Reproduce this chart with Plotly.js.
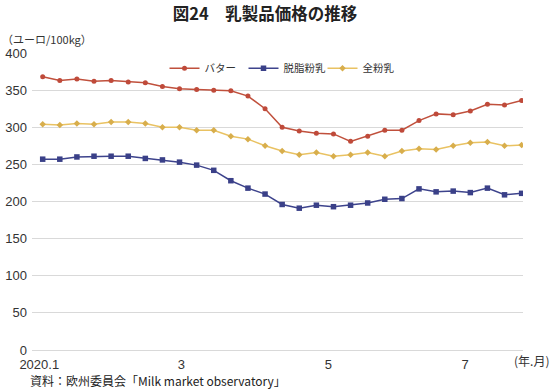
<!DOCTYPE html>
<html>
<head>
<meta charset="utf-8">
<script src="https://cdn.plot.ly/plotly-3.0.1.min.js"></script>
<style>html,body{margin:0;padding:0;background:#fff;}#chart{width:553px;height:389px;}</style>
</head>
<body>
<div id="chart"></div>
<script>
// Weekly observations, 2020 week 1 .. week 29
const weeks = [1,2,3,4,5,6,7,8,9,10,11,12,13,14,15,16,17,18,19,20,21,22,23,24,25,26,27,28,29];
const seriesNames = ['バター', '脱脂粉乳', '全粉乳'];
const butter = [368,363,365,362,363,361,360,355,352,351,350,349,342,325,300,295,292,291,281,288,296,296,309,318,317,322,331,330,336];
const skimMilkPowder = [257,257,260,261,261,261,258,256,253,249,242,228,218,210,196,191,195,193,195,198,203,204,217,213,214,212,218,209,211];
const wholeMilkPowder = [304,303,305,304,307,307,305,300,300,296,296,288,284,275,268,263,266,261,263,266,261,268,271,270,275,279,280,275,276];
const tickLabels = ['2020.1', '3', '5', '7'];
const tickWeeks = [0.8, 9.1, 17.7, 25.7];

const FONT = 'Liberation Sans, Arial, "Noto Sans CJK JP", sans-serif';
const JFONT = '"Noto Sans CJK JP", "Liberation Sans", sans-serif';

const traces = [
  {x: weeks, y: butter, name: seriesNames[0], type: 'scatter', mode: 'lines+markers',
   line: {color: '#c0503c', width: 1.5}, marker: {symbol: 'circle', size: 5, color: '#bf4a3a'}},
  {x: weeks, y: skimMilkPowder, name: seriesNames[1], type: 'scatter', mode: 'lines+markers',
   line: {color: '#3d438c', width: 1.5}, marker: {symbol: 'square', size: 5.5, color: '#3a4088'}},
  {x: weeks, y: wholeMilkPowder, name: seriesNames[2], type: 'scatter', mode: 'lines+markers',
   line: {color: '#e9c262', width: 1.5}, marker: {symbol: 'diamond', size: 5, color: '#d8ae4c'}}
];

const layout = {
  width: 553, height: 389, autosize: false,
  paper_bgcolor: '#ffffff', plot_bgcolor: '#ffffff',
  margin: {l: 32, r: 30, t: 53, b: 39, pad: 0},
  font: {family: FONT, size: 13, color: '#333333'},
  title: {text: '図24　乳製品価格の推移', font: {family: JFONT, size: 16.5, color: '#222222', weight: 'bold'},
          x: 265/553, xanchor: 'center', y: 1 - 14/389, yanchor: 'middle', yref: 'container'},
  showlegend: true,
  legend: {orientation: 'h', x: (283-32)/491, xanchor: 'center', y: 0.9485, yanchor: 'middle',
           bgcolor: 'rgba(0,0,0,0)', font: {family: JFONT, size: 10.5, color: '#333333'},
           itemwidth: 30, tracegroupgap: 0, entrywidth: 34, entrywidthmode: 'pixels'},
  xaxis: {type: 'linear', range: [0.375, 29.08], tickmode: 'array', tickvals: tickWeeks, ticktext: tickLabels,
          showgrid: false, zeroline: false, showline: true, linecolor: '#d9d9d9', linewidth: 1,
          ticks: '', ticklabelstandoff: 2, tickfont: {family: FONT, size: 13, color: '#333333'}, fixedrange: true},
  yaxis: {range: [0, 400], tickmode: 'linear', tick0: 0, dtick: 50, showgrid: true, gridcolor: '#d9d9d9',
          gridwidth: 1, zeroline: false, showline: false, ticks: '', ticklabelstandoff: 4,
          tickfont: {family: FONT, size: 13, color: '#333333'}, fixedrange: true},
  annotations: [
    {text: '（ユーロ/100kg）', xref: 'paper', yref: 'paper', x: -32/491, y: (350-39)/297.3,
     xanchor: 'left', yanchor: 'middle', showarrow: false, font: {family: JFONT, size: 11, color: '#333333'}},
    {text: '(年.月)', xref: 'paper', yref: 'paper', x: (531-32)/491, y: (350-361)/297.3,
     xanchor: 'center', yanchor: 'middle', showarrow: false, font: {family: JFONT, size: 12, color: '#333333'}},
    {text: '資料：欧州委員会「Milk market observatory」', xref: 'paper', yref: 'paper', x: (28-32)/491, y: (350-381)/297.3,
     xanchor: 'left', yanchor: 'middle', showarrow: false, font: {family: JFONT, size: 12, color: '#222222'}}
  ]
};

Plotly.newPlot('chart', traces, layout, {displayModeBar: false, staticPlot: true});
</script>
</body>
</html>
